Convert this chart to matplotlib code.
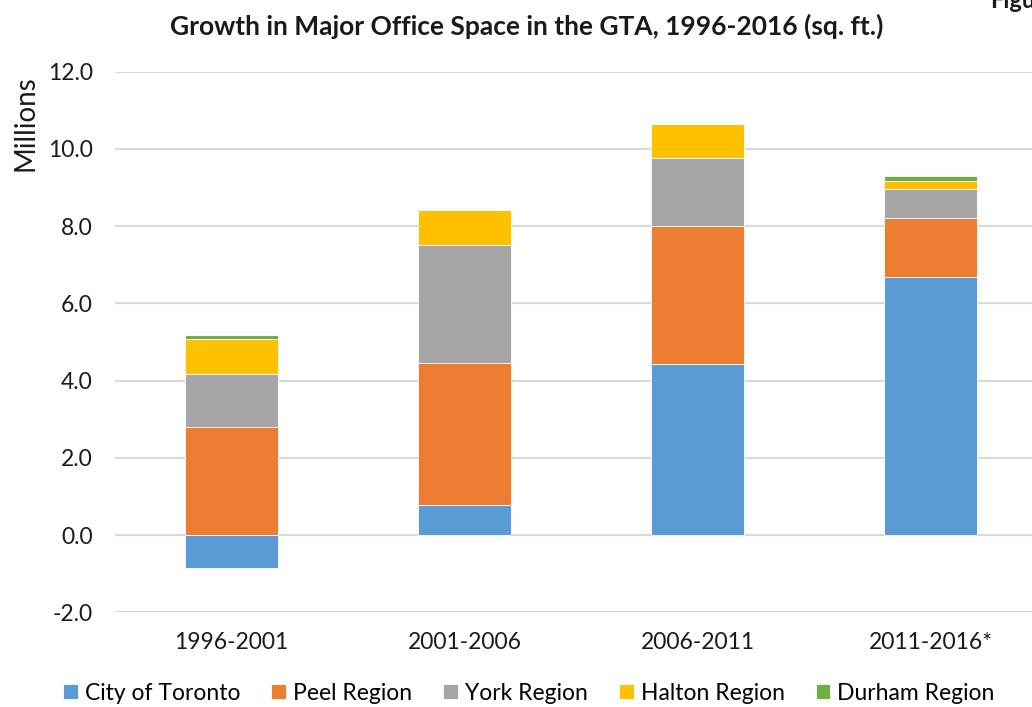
#!/usr/bin/env python3
# -*- coding: utf-8 -*-
"""
Growth in major office space in the GTA, stacked bars.
"""

import numpy as np
import matplotlib
matplotlib.use('Agg')
import matplotlib.pyplot as plt

plt.rcParams['font.family'] = ['Lato', 'DejaVu Sans']

periods = ['1996-2001', '2001-2006', '2006-2011', '2011-2016*']
regions = ['City of Toronto', 'Peel Region', 'York Region', 'Halton Region', 'Durham Region']
colores = ['#5B9BD5', '#ED7D31', '#A5A5A5', '#FFC000', '#70AD47']

# millions of sq. ft.
toronto = [-0.86, 0.77, 4.43, 6.68]
peel = [2.80, 3.69, 3.58, 1.52]
york = [1.37, 3.06, 1.75, 0.76]
halton = [0.91, 0.90, 0.89, 0.20]
durham = [0.09, 0.0, 0.0, 0.14]

series = [toronto, peel, york, halton, durham]

fig = plt.figure(figsize=(10.32, 7.07), dpi=100)
ax = fig.add_axes([115/1032, 1 - 612.3/707, 932/1032, (612.3 - 71.7)/707])

x = np.arange(len(periods))
pos = np.zeros(len(periods))
neg = np.zeros(len(periods))
for vals, name, c in zip(series, regions, colores):
    vals = np.array(vals)
    base = np.where(vals >= 0, pos, neg)
    ax.bar(x, vals, width=0.4, bottom=base, color=c, label=name,
           edgecolor='white', linewidth=0.6, zorder=3)
    pos = pos + np.where(vals >= 0, vals, 0)
    neg = neg + np.where(vals < 0, vals, 0)

ax.set_xlim(-0.5, 3.5)
ax.set_ylim(-2, 12)
ax.set_yticks(np.arange(-2, 12.1, 2))
ax.set_yticklabels(['%.1f' % v for v in np.arange(-2, 12.1, 2)])
ax.set_xticks(x)
ax.set_xticklabels(periods)
ax.tick_params(axis='both', length=0, labelsize=16.5, colors='#1a1a1a')
ax.tick_params(axis='x', pad=14)
ax.tick_params(axis='y', pad=16)
ax.grid(axis='y', color='#D9D9D9', linewidth=1.5, zorder=0)
for s in ax.spines.values():
    s.set_visible(False)

fig.text(25/1032, 1 - 123/707, 'Millions', rotation=90, ha='center', va='center',
         fontsize=20, color='#1a1a1a')
fig.text(527/1032, 1 - 26/707, 'Growth in Major Office Space in the GTA, 1996-2016 (sq. ft.)',
         ha='center', va='center', fontsize=19, fontweight='bold', color='#1a1a1a')
fig.text(990/1032, 1 - 1/707, 'Figure', ha='left', va='center',
         fontsize=17, fontweight='bold', color='#1a1a1a')

fig.legend(loc='center', bbox_to_anchor=(529/1032, 1 - 693/707), ncol=5,
           frameon=False, fontsize=16.5, handlelength=0.65, handleheight=0.65,
           handletextpad=0.3, columnspacing=1.35, borderaxespad=0)

fig.savefig('out.png', dpi=100)
